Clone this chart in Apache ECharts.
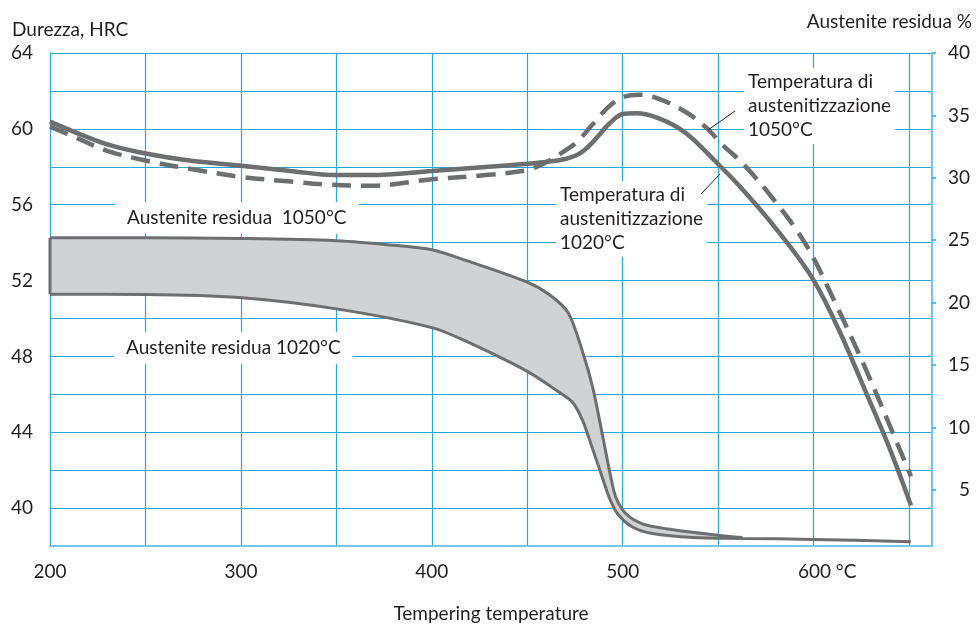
<!DOCTYPE html>
<html>
<head>
<meta charset="utf-8">
<title>Durezza e austenite residua</title>
<script src="https://cdn.jsdelivr.net/npm/echarts@6.0.0/dist/echarts.min.js"></script>
<style>
  html, body { margin: 0; padding: 0; background: #fff; }
  #chart { width: 976px; height: 628px; }
</style>
</head>
<body>
<div id="chart"></div>
<script>
// durezza HRC, austenitizzazione 1020°C (linea continua)
const TEMP_1020 = [200, 212, 230, 250, 273, 299, 326, 349, 368, 400, 428, 450, 462, 470, 476, 480, 484, 488, 493, 500, 507, 519, 533, 549, 561, 579, 599, 613, 627, 640, 651];
const HRC_1020 = [60.38, 59.87, 59.18, 58.70, 58.33, 58.07, 57.78, 57.56, 57.56, 57.78, 57.99, 58.16, 58.28, 58.41, 58.62, 58.88, 59.27, 59.72, 60.28, 60.78, 60.82, 60.55, 59.78, 58.24, 57.00, 54.90, 52.18, 49.44, 46.20, 43.10, 40.14];

// durezza HRC, austenitizzazione 1050°C (linea tratteggiata)
const TEMP_1050 = [200, 212, 230, 250, 273, 299, 326, 347, 368, 400, 428, 450, 456, 463, 469, 476, 484, 493, 501, 509, 519, 533, 544, 552, 563, 579, 596, 613, 627, 640, 651];
const HRC_1050 = [60.12, 59.61, 58.84, 58.33, 57.90, 57.48, 57.22, 57.05, 57.00, 57.34, 57.56, 57.82, 58.05, 58.40, 58.80, 59.30, 60.21, 61.20, 61.70, 61.80, 61.58, 60.89, 60.04, 59.18, 58.16, 56.28, 53.89, 50.47, 47.39, 44.32, 41.67];

// austenite residua %, bordo superiore (1050°C)
const BAND_TOP_TEMP = [200, 250, 299, 350, 382, 400, 419, 450, 462, 471.5, 479, 484.3, 489.5, 493.9, 496.5, 501.8, 510.3, 522.7, 549.6, 562.6];
const BAND_TOP_PCT = [25.19, 25.19, 25.14, 24.96, 24.57, 24.23, 23.32, 21.64, 20.59, 19.17, 16.05, 13.19, 9.29, 5.92, 4.36, 3.06, 2.28, 1.89, 1.37, 1.18];

// austenite residua %, bordo inferiore (1020°C) e coda comune
const BAND_BOT_TEMP = [200, 250, 299, 350, 400, 419, 450, 466.9, 473.7, 478.9, 484.3, 489.5, 493, 497.4, 505.1, 515.6, 536.5, 562.6, 599.3, 650.9];
const BAND_BOT_PCT = [20.67, 20.65, 20.41, 19.50, 18.00, 16.83, 14.49, 12.80, 12.02, 10.59, 8.25, 5.91, 4.36, 3.06, 2.02, 1.50, 1.18, 1.11, 1.03, 0.85];

const TEMP_TICKS = [200, 300, 400, 500, 600];
const HRC_TICKS = [40, 44, 48, 52, 56, 60, 64];
const PCT_TICKS = [5, 10, 15, 20, 25, 30, 35, 40];

const FONT = 'Lato, "Open Sans", sans-serif';
const FONT_SIZE = 19;
const TEXT_COLOR = '#231f20';
const GRAY = '#6d6e70';
const BLUE = '#2aa6df';
const BLUE_LIGHT = '#74c6ec';

function pairs(xs, ys) {
  return xs.map(function (x, i) { return [x, ys[i]]; });
}

const chart = echarts.init(document.getElementById('chart'));

const textStyle = { fontFamily: FONT, fontSize: FONT_SIZE, color: TEXT_COLOR };
const boxFont = FONT_SIZE + 'px ' + FONT;

const option = {
  backgroundColor: '#fff',
  animation: false,
  title: [
    { text: 'Durezza, HRC', left: 12, top: 20, padding: 0, textStyle: Object.assign({ fontWeight: 'normal' }, textStyle) },
    { text: 'Austenite residua %', right: 4, top: 12, padding: 0, textStyle: Object.assign({ fontWeight: 'normal' }, textStyle) }
  ],
  grid: { left: 50, right: 44, top: 53, bottom: 69, containLabel: false },
  xAxis: {
    type: 'value',
    min: 200,
    max: 662,
    interval: 50,
    name: 'Tempering temperature',
    nameLocation: 'middle',
    nameGap: 58,
    nameTextStyle: textStyle,
    axisLine: { show: true, lineStyle: { color: BLUE_LIGHT, width: 2 } },
    axisTick: { show: false },
    splitLine: { show: true, lineStyle: { color: BLUE, width: 1.2 } },
    axisLabel: Object.assign({
      margin: 16,
      showMinLabel: true,
      formatter: function (v) {
        if (v === 600) return '{u|600 °C}';
        return TEMP_TICKS.indexOf(v) >= 0 ? String(v) : '';
      },
      rich: { u: Object.assign({ padding: [0, 0, 0, 27] }, textStyle) }
    }, textStyle)
  },
  yAxis: [
    {
      type: 'value',
      position: 'left',
      min: 38,
      max: 64,
      interval: 2,
      axisLine: { show: true, lineStyle: { color: BLUE, width: 1 } },
      axisTick: { show: false },
      splitLine: { show: true, lineStyle: { color: BLUE, width: 1.2 } },
      axisLabel: Object.assign({
        margin: 17,
        showMaxLabel: true,
        formatter: function (v) { return HRC_TICKS.indexOf(v) >= 0 ? String(v) : ''; }
      }, textStyle)
    },
    {
      type: 'value',
      position: 'right',
      min: 0.5,
      max: 40,
      interval: 0.5,
      axisLine: { show: true, lineStyle: { color: BLUE_LIGHT, width: 2 } },
      axisTick: { show: true, inside: false, length: 4, customValues: PCT_TICKS, lineStyle: { color: BLUE, width: 1.5 } },
      splitLine: { show: false },
      axisLabel: Object.assign({ customValues: PCT_TICKS, align: 'right', margin: 38 }, textStyle)
    }
  ],
  series: [
    {
      // riempimento della fascia di austenite residua
      type: 'custom',
      name: 'band',
      yAxisIndex: 1,
      silent: true,
      z: 1,
      data: [[BAND_TOP_TEMP[0], BAND_TOP_PCT[0]]],
      renderItem: function (params, api) {
        const pts = [];
        for (let i = 0; i < BAND_TOP_TEMP.length; i++) {
          pts.push(api.coord([BAND_TOP_TEMP[i], BAND_TOP_PCT[i]]));
        }
        const last = BAND_TOP_TEMP[BAND_TOP_TEMP.length - 1];
        for (let i = BAND_BOT_TEMP.length - 1; i >= 0; i--) {
          if (BAND_BOT_TEMP[i] <= last) pts.push(api.coord([BAND_BOT_TEMP[i], BAND_BOT_PCT[i]]));
        }
        return { type: 'polygon', shape: { points: pts }, style: { fill: '#d1d2d4' } };
      }
    },
    {
      type: 'line', name: 'Austenite residua 1050°C', yAxisIndex: 1,
      data: pairs(BAND_TOP_TEMP, BAND_TOP_PCT),
      smooth: 0.3, showSymbol: false, symbol: 'none',
      lineStyle: { color: GRAY, width: 3 }, z: 3
    },
    {
      type: 'line', name: 'Austenite residua 1020°C', yAxisIndex: 1,
      data: pairs(BAND_BOT_TEMP, BAND_BOT_PCT),
      smooth: 0.3, showSymbol: false, symbol: 'none',
      lineStyle: { color: GRAY, width: 3 }, z: 3
    },
    {
      type: 'line', name: 'band edge', yAxisIndex: 1,
      data: [[BAND_BOT_TEMP[0], BAND_BOT_PCT[0]], [BAND_TOP_TEMP[0], BAND_TOP_PCT[0]]],
      showSymbol: false, symbol: 'none',
      lineStyle: { color: GRAY, width: 3 }, z: 3
    },
    {
      type: 'line', name: 'HRC 1020°C', yAxisIndex: 0,
      data: pairs(TEMP_1020, HRC_1020),
      smooth: 0.35, showSymbol: false, symbol: 'none',
      lineStyle: { color: GRAY, width: 4.5 }, z: 4
    },
    {
      type: 'line', name: 'HRC 1050°C', yAxisIndex: 0,
      data: pairs(TEMP_1050, HRC_1050),
      smooth: 0.35, showSymbol: false, symbol: 'none',
      lineStyle: { color: GRAY, width: 4.5, type: [19, 10] }, z: 4
    }
  ],
  graphic: [
    {
      type: 'text', left: 115, top: 202, z: 1,
      style: { text: 'Austenite residua  1050°C', font: boxFont, fill: TEXT_COLOR, lineHeight: 24, backgroundColor: '#fff', padding: [4, 12] }
    },
    {
      type: 'text', left: 114, top: 332, z: 1,
      style: { text: 'Austenite residua 1020°C', font: boxFont, fill: TEXT_COLOR, lineHeight: 24, backgroundColor: '#fff', padding: [4, 12] }
    },
    {
      type: 'text', left: 744, top: 68, z: 1,
      style: { text: 'Temperatura di\naustenitizzazione\n1050°C', font: boxFont, fill: TEXT_COLOR, lineHeight: 24, backgroundColor: '#fff', padding: [2, 4] }
    },
    {
      type: 'text', left: 556, top: 181, z: 1,
      style: { text: 'Temperatura di\naustenitizzazione\n1020°C', font: boxFont, fill: TEXT_COLOR, lineHeight: 24, backgroundColor: '#fff', padding: [2, 4] }
    },
    { type: 'line', z: 10, shape: { x1: 735, y1: 111, x2: 708, y2: 130 }, style: { stroke: TEXT_COLOR, lineWidth: 1 } },
    { type: 'line', z: 10, shape: { x1: 701, y1: 194, x2: 720, y2: 174 }, style: { stroke: TEXT_COLOR, lineWidth: 1 } }
  ]
};

chart.setOption(option);
</script>
</body>
</html>
